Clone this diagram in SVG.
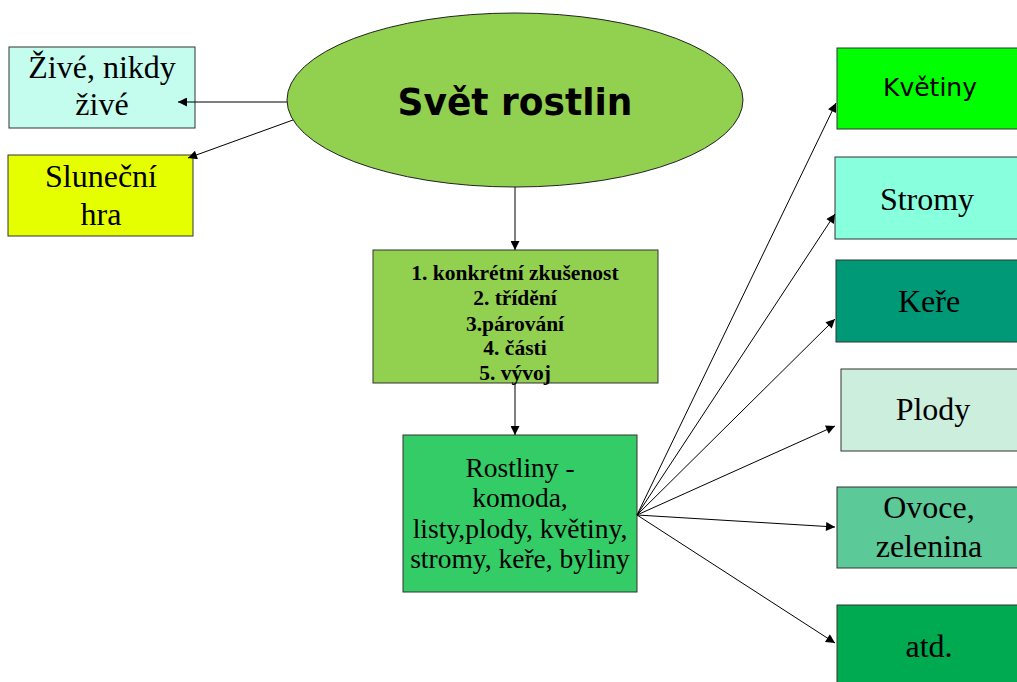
<svg xmlns="http://www.w3.org/2000/svg" width="1017" height="682" viewBox="0 0 1017 682">
<style>
.box{stroke:#333;stroke-width:1}
.serif{font-family:'Liberation Serif','Times New Roman',Times,serif;fill:#000;text-anchor:middle}
.big{font-size:32px}
.sans{font-family:'DejaVu Sans',Verdana,sans-serif;fill:#000;text-anchor:middle}
.conn line{stroke:#000;stroke-width:1;marker-end:url(#ah)}
</style>
<defs>
<marker id="ah" viewBox="0 0 10 10" refX="10" refY="5" markerWidth="11" markerHeight="9" markerUnits="userSpaceOnUse" orient="auto">
<path d="M0,0 L10,5 L0,10 z" fill="#000"/>
</marker>
</defs>
<rect width="1017" height="682" fill="#fff"/>
<g id="zive">
<rect class="box" x="9" y="47" width="186" height="81" fill="#C4FDEE"/>
<text class="serif big" x="102" y="78">Živé, nikdy</text>
<text class="serif big" x="102" y="115">živé</text>
</g>
<g id="slunecni">
<rect class="box" x="8" y="155" width="185" height="81" fill="#E6FF00"/>
<text class="serif big" x="101" y="187">Sluneční</text>
<text class="serif big" x="101" y="225">hra</text>
</g>
<g id="svet">
<ellipse cx="515" cy="100" rx="228" ry="87" fill="#92D050" stroke="#222" stroke-width="1"/>
<text class="sans" font-size="38" font-weight="bold" x="515" y="115" textLength="235" lengthAdjust="spacingAndGlyphs">Svět rostlin</text>
</g>
<g id="kroky">
<rect class="box" x="373" y="250" width="285" height="133" fill="#92D050"/>
<text class="serif" font-size="21.5" font-weight="bold" x="515" y="280">1. konkrétní zkušenost</text>
<text class="serif" font-size="21.5" font-weight="bold" x="515" y="305">2. třídění</text>
<text class="serif" font-size="21.5" font-weight="bold" x="515" y="331">3.párování</text>
<text class="serif" font-size="21.5" font-weight="bold" x="515" y="355">4. části</text>
<text class="serif" font-size="21.5" font-weight="bold" x="515" y="380">5. vývoj</text>
</g>
<g id="rostliny">
<rect class="box" x="403" y="435" width="234" height="157" fill="#33CC66"/>
<text class="serif" font-size="27.5" x="520" y="477">Rostliny -</text>
<text class="serif" font-size="27.5" x="520" y="507">komoda,</text>
<text class="serif" font-size="27.5" x="520" y="538">listy,plody, květiny,</text>
<text class="serif" font-size="27.5" x="520" y="568">stromy, keře, byliny</text>
</g>
<g id="kvetiny">
<rect class="box" x="837" y="48" width="185" height="81" fill="#00FF00"/>
<text class="sans" font-size="25" x="930" y="96">Květiny</text>
</g>
<g id="stromy">
<rect class="box" x="835" y="157" width="187" height="82" fill="#88FFDD"/>
<text class="serif big" x="927" y="210">Stromy</text>
</g>
<g id="kere">
<rect class="box" x="836" y="260" width="186" height="82" fill="#009977"/>
<text class="serif big" x="929" y="312">Keře</text>
</g>
<g id="plody">
<rect class="box" x="841" y="369" width="181" height="82" fill="#CCEEDD"/>
<text class="serif big" x="933" y="420">Plody</text>
</g>
<g id="ovoce">
<rect class="box" x="837" y="487" width="185" height="81" fill="#5CC999"/>
<text class="serif big" x="929" y="518">Ovoce,</text>
<text class="serif big" x="929" y="557">zelenina</text>
</g>
<g id="atd">
<rect class="box" x="837" y="605" width="185" height="90" fill="#00AA50"/>
<text class="serif big" x="929" y="657">atd.</text>
</g>
<g id="connectors" class="conn">
<line x1="287" y1="102" x2="178" y2="102"/>
<line x1="293" y1="120" x2="188" y2="158"/>
<line x1="515" y1="187" x2="515" y2="250"/>
<line x1="515" y1="383" x2="515" y2="435"/>
<line x1="637" y1="515" x2="836" y2="103"/>
<line x1="637" y1="515" x2="835" y2="214"/>
<line x1="637" y1="515" x2="835" y2="319"/>
<line x1="637" y1="515" x2="835" y2="426"/>
<line x1="637" y1="515" x2="835" y2="527"/>
<line x1="637" y1="515" x2="835" y2="643"/>
</g>
</svg>
